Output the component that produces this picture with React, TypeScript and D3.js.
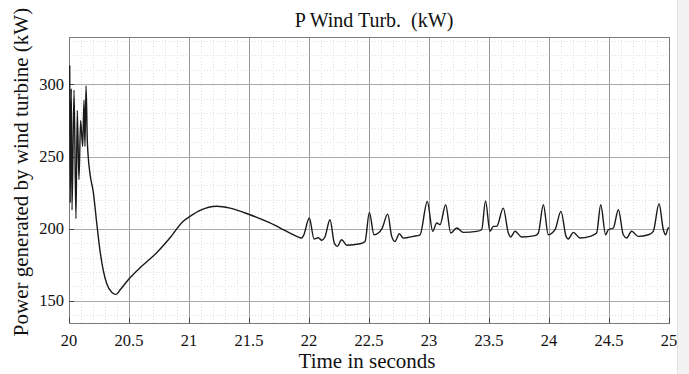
import * as d3 from "d3";
import { useEffect, useRef } from "react";

// time (s) and power (kW)
const TIME = [
  20.006, 20.010, 20.019, 20.025, 20.042, 20.058, 20.069, 20.083, 20.097, 20.114,
  20.125, 20.133, 20.142, 20.153, 20.160, 20.175, 20.203, 20.231, 20.258, 20.286,
  20.314, 20.356, 20.392, 20.425, 20.494, 20.592, 20.731, 20.842, 20.950, 21.008,
  21.092, 21.231, 21.342, 21.508, 21.675, 21.842, 21.939, 21.953, 22.003, 22.042,
  22.078, 22.106, 22.133, 22.175, 22.211, 22.236, 22.272, 22.314, 22.425, 22.467,
  22.503, 22.542, 22.578, 22.608, 22.656, 22.689, 22.717, 22.753, 22.786, 22.869,
  22.925, 22.986, 23.031, 23.064, 23.092, 23.139, 23.181, 23.231, 23.286, 23.397,
  23.439, 23.471, 23.508, 23.536, 23.564, 23.619, 23.661, 23.681, 23.717, 23.772,
  23.883, 23.911, 23.953, 23.994, 24.050, 24.100, 24.142, 24.161, 24.203, 24.258,
  24.342, 24.397, 24.431, 24.472, 24.494, 24.536, 24.578, 24.619, 24.647, 24.689,
  24.744, 24.828, 24.869, 24.917, 24.953, 24.972, 24.994, 25.000,
];
const POWER = [
  313, 218, 297, 213, 296, 207, 282, 234, 275, 257,
  289, 257, 299, 260, 250, 238, 225, 204, 185, 171,
  162, 156, 154.5, 157.5, 164.7, 173, 183.4, 193.7, 205, 208.5,
  212.7, 215.6, 214.3, 209.7, 204, 197, 193.6, 195, 207.4, 192.9,
  193.8, 192, 194.3, 206.2, 190, 187.8, 192.4, 188.6, 189.6, 191.2,
  211.3, 195.8, 197, 200, 210.1, 194.7, 191.2, 196.5, 193.5, 194.7,
  195.8, 218.9, 198.2, 204, 202.8, 216.6, 197, 200.5, 197.5, 198.2,
  199.3, 219.3, 198.2, 201.6, 201.6, 214.3, 197, 194.3, 198.2, 194.3,
  195.2, 197, 216.6, 195.8, 199.3, 212, 194.7, 192.9, 197.5, 193.6,
  194.7, 197, 216.6, 195.8, 199.3, 200.5, 213.1, 195.8, 193.6, 198.2,
  194.7, 195.8, 198.2, 217.3, 199.3, 195.8, 200.5, 200.5,
];

const X_TICKS = [20, 20.5, 21, 21.5, 22, 22.5, 23, 23.5, 24, 24.5, 25];
const Y_TICKS = [150, 200, 250, 300];
const X_DOMAIN = [20, 25];
const Y_DOMAIN = [134.7, 332.8];

const TITLE  = "P Wind Turb.  (kW)";
const XLABEL = "Time in seconds";
const YLABEL = "Power generated by wind turbine (kW)";

const W = 689;
const H = 374;
const FONT = "'Liberation Serif', 'Times New Roman', serif";

export default function App() {
  const svgRef = useRef<SVGSVGElement>(null);

  useEffect(() => {
    const svg = d3.select(svgRef.current);
    svg.selectAll("*").remove();

    const m = { left: 69, right: 669, top: 37, bottom: 323 };
    const x = d3.scaleLinear().domain(X_DOMAIN).range([m.left, m.right]);
    const y = d3.scaleLinear().domain(Y_DOMAIN).range([m.bottom, m.top]);

    svg.append("rect").attr("width", W).attr("height", H).attr("fill", "#fff");

    svg.append("defs").append("clipPath").attr("id", "plot-clip")
      .append("rect")
      .attr("x", m.left).attr("y", m.top)
      .attr("width", m.right - m.left).attr("height", m.bottom - m.top);

    const g = svg.append("g");

    // ── minor grid ──
    const minorX = d3.range(201, 250).map((v) => v / 10).filter((v) => Math.abs(v * 2 - Math.round(v * 2)) > 1e-6);
    const minorY = d3.range(140, 331, 10).filter((v) => v % 50 !== 0);
    g.selectAll(".mx").data(minorX).enter().append("line")
      .attr("x1", (d) => Math.round(x(d)) + 0.5).attr("x2", (d) => Math.round(x(d)) + 0.5)
      .attr("y1", m.top).attr("y2", m.bottom)
      .attr("stroke", "#dedede").attr("stroke-width", 1)
      .attr("stroke-dasharray", "1,2");
    g.selectAll(".my").data(minorY).enter().append("line")
      .attr("x1", m.left).attr("x2", m.right)
      .attr("y1", (d) => Math.round(y(d)) + 0.5).attr("y2", (d) => Math.round(y(d)) + 0.5)
      .attr("stroke", "#dedede").attr("stroke-width", 1)
      .attr("stroke-dasharray", "1,2");

    // ── major grid ──
    g.selectAll(".gx").data(X_TICKS.slice(1, -1)).enter().append("line")
      .attr("x1", (d) => Math.round(x(d)) + 0.5).attr("x2", (d) => Math.round(x(d)) + 0.5)
      .attr("y1", m.top).attr("y2", m.bottom)
      .attr("stroke", "#999").attr("stroke-width", 1);
    g.selectAll(".gy").data(Y_TICKS).enter().append("line")
      .attr("x1", m.left).attr("x2", m.right)
      .attr("y1", (d) => Math.round(y(d)) + 0.5).attr("y2", (d) => Math.round(y(d)) + 0.5)
      .attr("stroke", "#aaa").attr("stroke-width", 1);

    // ── frame + inward ticks ──
    g.append("rect")
      .attr("x", m.left + 0.5).attr("y", m.top + 0.5)
      .attr("width", m.right - m.left).attr("height", m.bottom - m.top)
      .attr("fill", "none").attr("stroke", "#7a7a7a").attr("stroke-width", 1);
    g.selectAll(".tx").data(X_TICKS).enter().append("line")
      .attr("x1", (d) => Math.round(x(d)) + 0.5).attr("x2", (d) => Math.round(x(d)) + 0.5)
      .attr("y1", m.bottom).attr("y2", m.bottom - 5)
      .attr("stroke", "#444");
    g.selectAll(".ty").data(Y_TICKS).enter().append("line")
      .attr("x1", m.left).attr("x2", m.left + 5)
      .attr("y1", (d) => Math.round(y(d)) + 0.5).attr("y2", (d) => Math.round(y(d)) + 0.5)
      .attr("stroke", "#444");

    // ── trace ──
    const pts = TIME.map((t, i) => [t, POWER[i]] as [number, number]);
    const line = d3.line<[number, number]>()
      .x((d) => x(d[0]))
      .y((d) => y(d[1]))
      .curve(d3.curveMonotoneX);
    g.append("path")
      .datum(pts)
      .attr("clip-path", "url(#plot-clip)")
      .attr("fill", "none")
      .attr("stroke", "#1a1a1a")
      .attr("stroke-width", 1.4)
      .attr("stroke-linejoin", "round")
      .attr("d", line);

    // ── tick labels ──
    g.selectAll(".lx").data(X_TICKS).enter().append("text")
      .attr("x", (d) => x(d)).attr("y", 346)
      .attr("text-anchor", "middle")
      .style("font-family", FONT).style("font-size", "16.5px").style("fill", "#111")
      .text((d) => String(d));
    g.selectAll(".ly").data(Y_TICKS).enter().append("text")
      .attr("x", 64).attr("y", (d) => y(d) + 5.5)
      .attr("text-anchor", "end")
      .style("font-family", FONT).style("font-size", "16.5px").style("fill", "#111")
      .text((d) => String(d));

    // ── titles ──
    svg.append("text")
      .attr("x", 374).attr("y", 27)
      .attr("text-anchor", "middle")
      .style("font-family", FONT).style("font-size", "20px").style("fill", "#111")
      .style("white-space", "pre")
      .text(TITLE);
    svg.append("text")
      .attr("x", 367).attr("y", 368)
      .attr("text-anchor", "middle")
      .style("font-family", FONT).style("font-size", "21px").style("fill", "#111")
      .text(XLABEL);
    svg.append("text")
      .attr("transform", "translate(28,172) rotate(-90)")
      .attr("text-anchor", "middle")
      .style("font-family", FONT).style("font-size", "21px").style("fill", "#111")
      .text(YLABEL);

    // cropped edge strip at right
    svg.append("rect")
      .attr("x", 677).attr("y", 0).attr("width", W - 677).attr("height", H)
      .attr("fill", "#f2f2f2");
    svg.append("line")
      .attr("x1", 677.5).attr("x2", 677.5).attr("y1", 0).attr("y2", H)
      .attr("stroke", "#e4e4e4");
  }, []);

  return (
    <svg
      ref={svgRef}
      width={W}
      height={H}
      style={{ position: "absolute", left: 0, top: 0, display: "block" }}
    />
  );
}
